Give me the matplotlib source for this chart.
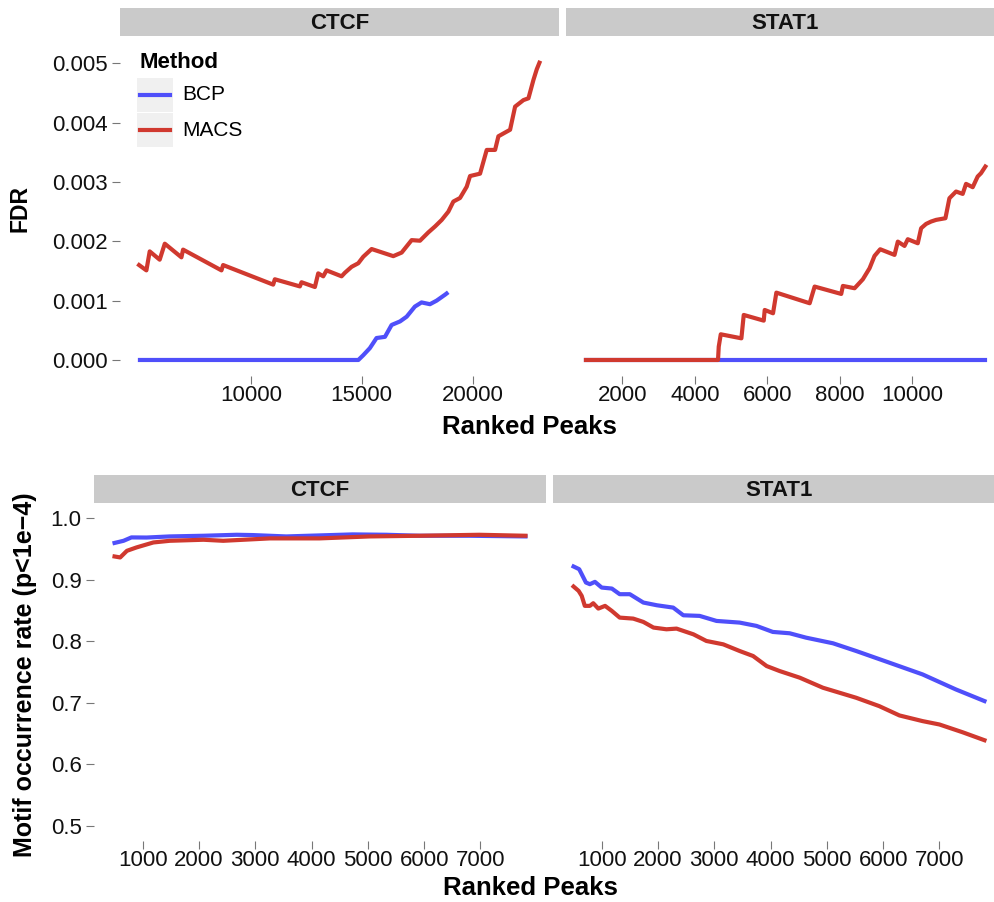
import matplotlib
matplotlib.use("Agg")
import matplotlib.pyplot as plt
from matplotlib.patches import Rectangle
from matplotlib.lines import Line2D

plt.rcParams['font.family'] = ['Liberation Sans', 'DejaVu Sans']

# ---- data ----
methods = ["BCP", "MACS"]
factors = ["CTCF", "STAT1"]

# FDR, CTCF
fdr_ctcf_bcp_x = [5000, 14850, 15070, 15370, 15670, 16050, 16350, 16730, 17030,
                  17400, 17700, 18080, 18380, 18760, 18830]
fdr_ctcf_bcp_y = [0, 0, 0.00008, 0.0002, 0.00037, 0.00039, 0.00059, 0.00065, 0.00073,
                  0.0009, 0.00097, 0.00094, 0.001, 0.0011, 0.00112]
fdr_ctcf_macs_x = [4960, 5290, 5440, 5890, 6120, 6870, 6945, 8676, 8751, 11008, 11084,
                   12212, 12288, 12890, 13040, 13266, 13416, 14094, 14244, 14545, 14846,
                   15072, 15448, 16426, 16803, 17254, 17630, 18006, 18308, 18609, 18910,
                   19135, 19436, 19737, 19888, 20339, 20640, 21017, 21167, 21694, 21920,
                   22296, 22522, 22747, 22898, 23018]
fdr_ctcf_macs_y = [0.00160, 0.00151, 0.00183, 0.00169, 0.00196, 0.00173, 0.00186, 0.00151,
                   0.00160, 0.00127, 0.00136, 0.00124, 0.00131, 0.00123, 0.00146, 0.00141,
                   0.00151, 0.00141, 0.00147, 0.00157, 0.00163, 0.00174, 0.00187, 0.00175,
                   0.00181, 0.00202, 0.00201, 0.00215, 0.00225, 0.00236, 0.00250, 0.00267,
                   0.00273, 0.00292, 0.00310, 0.00314, 0.00354, 0.00354, 0.00377, 0.00388,
                   0.00427, 0.00438, 0.00441, 0.00472, 0.00490, 0.00501]

# FDR, STAT1
fdr_stat1_bcp_x = [1000, 12000]
fdr_stat1_bcp_y = [0, 0]
fdr_stat1_macs_x = [1000, 4640, 4660, 4716, 5284, 5349, 5900, 5927, 6156, 6248,
                    7166, 7303, 8036, 8082, 8404, 8632, 8817, 8954, 9110, 9505,
                    9596, 9780, 9871, 10146, 10238, 10375, 10513, 10650, 10908, 11018,
                    11201, 11384, 11476, 11660, 11797, 11889, 12009]
fdr_stat1_macs_y = [0, 0, 0.000225, 0.000433, 0.000365, 0.000759, 0.000663, 0.000843,
                    0.000787, 0.001135, 0.000956, 0.001237, 0.001113, 0.001248, 0.001209,
                    0.00136, 0.001546, 0.001754, 0.001866, 0.001771, 0.001995, 0.001922,
                    0.002035, 0.001967, 0.00222, 0.002293, 0.002333, 0.002361, 0.002389,
                    0.002726, 0.002839, 0.002799, 0.002968, 0.002912, 0.003092, 0.003148,
                    0.00326]

# motif occurrence, CTCF
mot_ctcf_bcp_x = [500, 660, 800, 1070, 1480, 2080, 2670, 2960, 3550, 4730, 5330, 5920, 6800, 7800]
mot_ctcf_bcp_y = [0.960, 0.9635, 0.969, 0.9688, 0.9706, 0.9717, 0.9733, 0.9728, 0.9706,
                  0.9739, 0.9733, 0.9717, 0.9717, 0.9706]
mot_ctcf_macs_x = [500, 600, 720, 890, 1190, 1480, 2080, 2430, 3260, 4140, 5030, 5920, 6980, 7800]
mot_ctcf_macs_y = [0.938, 0.9364, 0.9472, 0.9527, 0.9608, 0.9635, 0.9652, 0.9635, 0.9674,
                   0.9674, 0.9706, 0.9717, 0.9733, 0.9717]

# motif occurrence, STAT1
mot_stat1_bcp_x = [500, 600, 645, 720, 790, 880, 1000, 1180, 1320, 1500, 1740, 1980, 2270,
                   2450, 2740, 3040, 3450, 3750, 4040, 4340, 4630, 5110, 5520, 6110, 6700,
                   7290, 7800]
mot_stat1_bcp_y = [0.9217, 0.9173, 0.9092, 0.8956, 0.8929, 0.8967, 0.8874, 0.8858, 0.8766,
                   0.8766, 0.863, 0.8586, 0.8548, 0.8423, 0.8413, 0.8331, 0.8304, 0.825,
                   0.8152, 0.813, 0.8059, 0.7967, 0.7842, 0.7652, 0.7461, 0.7217, 0.7027]
mot_stat1_macs_x = [500, 590, 645, 700, 790, 850, 940, 1060, 1180, 1320, 1560, 1740, 1920,
                    2150, 2330, 2630, 2860, 3160, 3450, 3690, 3930, 4160, 4520, 4930, 5520,
                    5930, 6290, 6700, 7000, 7410, 7800]
mot_stat1_macs_y = [0.8891, 0.882, 0.8739, 0.8576, 0.8576, 0.8619, 0.8532, 0.8576, 0.8494,
                    0.8385, 0.8369, 0.8315, 0.8223, 0.8195, 0.8206, 0.8113, 0.8005, 0.795,
                    0.7842, 0.776, 0.7597, 0.7516, 0.7407, 0.7244, 0.7081, 0.6945, 0.6793,
                    0.6701, 0.6646, 0.652, 0.639]

fdr_yticks = [0.000, 0.001, 0.002, 0.003, 0.004, 0.005]
mot_yticks = [0.5, 0.6, 0.7, 0.8, 0.9, 1.0]
fdr_ctcf_xticks = [10000, 15000, 20000]
fdr_stat1_xticks = [2000, 4000, 6000, 8000, 10000]
mot_xticks = [1000, 2000, 3000, 4000, 5000, 6000, 7000]

colors = {"BCP": "#4F4FFA", "MACS": "#D0392F"}

W, H = 995, 902
fig = plt.figure(figsize=(W / 100, H / 100), dpi=100)


def panel(l, t, r, b):
    return fig.add_axes([l / W, 1 - b / H, (r - l) / W, (b - t) / H])


def strip(l, t, r, b, label):
    s = fig.add_axes([l / W, 1 - b / H, (r - l) / W, (b - t) / H])
    s.set_facecolor("#CACACA")
    s.set_xticks([])
    s.set_yticks([])
    for sp in s.spines.values():
        sp.set_visible(False)
    s.text(0.5, 0.45, label, transform=s.transAxes, ha="center", va="center",
           fontsize=16, fontweight="bold", color="#111111")


def style(ax, show_y):
    for sp in ax.spines.values():
        sp.set_visible(False)
    ax.tick_params(axis="both", length=5.5, width=0.8, color="#777777",
                   labelsize=16, labelcolor="#111111")
    ax.tick_params(axis="x", pad=1)
    ax.tick_params(axis="y", pad=3.4)
    if not show_y:
        ax.set_yticks([])


# ---- top row: FDR ----
top = [panel(120, 36, 559, 376), panel(566, 36, 1005, 376)]
strip(120, 8, 559, 36, factors[0])
strip(566, 8, 1005, 36, factors[1])

top[0].plot(fdr_ctcf_bcp_x, fdr_ctcf_bcp_y, color=colors["BCP"], lw=3, solid_joinstyle="round")
top[0].plot(fdr_ctcf_macs_x, fdr_ctcf_macs_y, color=colors["MACS"], lw=3, solid_joinstyle="round")
top[1].plot(fdr_stat1_bcp_x, fdr_stat1_bcp_y, color=colors["BCP"], lw=3)
top[1].plot(fdr_stat1_macs_x, fdr_stat1_macs_y, color=colors["MACS"], lw=3, solid_joinstyle="round")

top[0].set_xlim(4100, 23900)
top[1].set_xlim(450, 12550)
for ax in top:
    ax.set_ylim(-0.00027, 0.00546)
top[0].set_xticks(fdr_ctcf_xticks)
top[1].set_xticks(fdr_stat1_xticks)
top[0].set_yticks(fdr_yticks)
top[0].set_yticklabels(["%.3f" % v for v in fdr_yticks])
style(top[0], True)
style(top[1], False)

# ---- bottom row: motif occurrence ----
bot = [panel(94, 503, 546, 841), panel(553, 503, 1005, 841)]
strip(94, 475, 546, 503, factors[0])
strip(553, 475, 1005, 503, factors[1])

bot[0].plot(mot_ctcf_bcp_x, mot_ctcf_bcp_y, color=colors["BCP"], lw=3)
bot[0].plot(mot_ctcf_macs_x, mot_ctcf_macs_y, color=colors["MACS"], lw=3)
bot[1].plot(mot_stat1_bcp_x, mot_stat1_bcp_y, color=colors["BCP"], lw=3)
bot[1].plot(mot_stat1_macs_x, mot_stat1_macs_y, color=colors["MACS"], lw=3)

for ax in bot:
    ax.set_xlim(135, 8165)
    ax.set_ylim(0.475, 1.025)
    ax.set_xticks(mot_xticks)
bot[0].set_yticks(mot_yticks)
bot[0].set_yticklabels(["%.1f" % v for v in mot_yticks])
style(bot[0], True)
style(bot[1], False)

# ---- axis titles ----
fig.text(529 / W, 1 - 434 / H, "Ranked Peaks", ha="center", va="baseline",
         fontsize=18.5, fontweight="bold")
fig.text(530 / W, 1 - 895 / H, "Ranked Peaks", ha="center", va="baseline",
         fontsize=18.5, fontweight="bold")
fig.text(20 / W, 1 - 208 / H, "FDR", ha="center", va="center", rotation=90,
         fontsize=16.5, fontweight="bold")
fig.text(25 / W, 1 - 675 / H, "Motif occurrence rate (p<1e\u22124)", ha="center",
         va="center", rotation=90, fontsize=18, fontweight="bold")

# ---- legend ----
fig.text(140 / W, 1 - 63 / H, "Method", ha="left", va="center",
         fontsize=16, fontweight="bold")
key_rows = [(78, 112, 95), (113, 147, 130)]
for m, (kt, kb, kc) in zip(methods, key_rows):
    fig.add_artist(Rectangle((137 / W, 1 - kb / H), 36 / W, (kb - kt) / H,
                             transform=fig.transFigure, facecolor="#F0F0F0",
                             edgecolor="none"))
    fig.add_artist(Line2D([140 / W, 170 / W], [1 - kc / H, 1 - kc / H],
                          transform=fig.transFigure, color=colors[m], lw=3))
    fig.text(182 / W, 1 - kc / H, m, ha="left", va="center", fontsize=15)

fig.savefig("out.png", dpi=100)
